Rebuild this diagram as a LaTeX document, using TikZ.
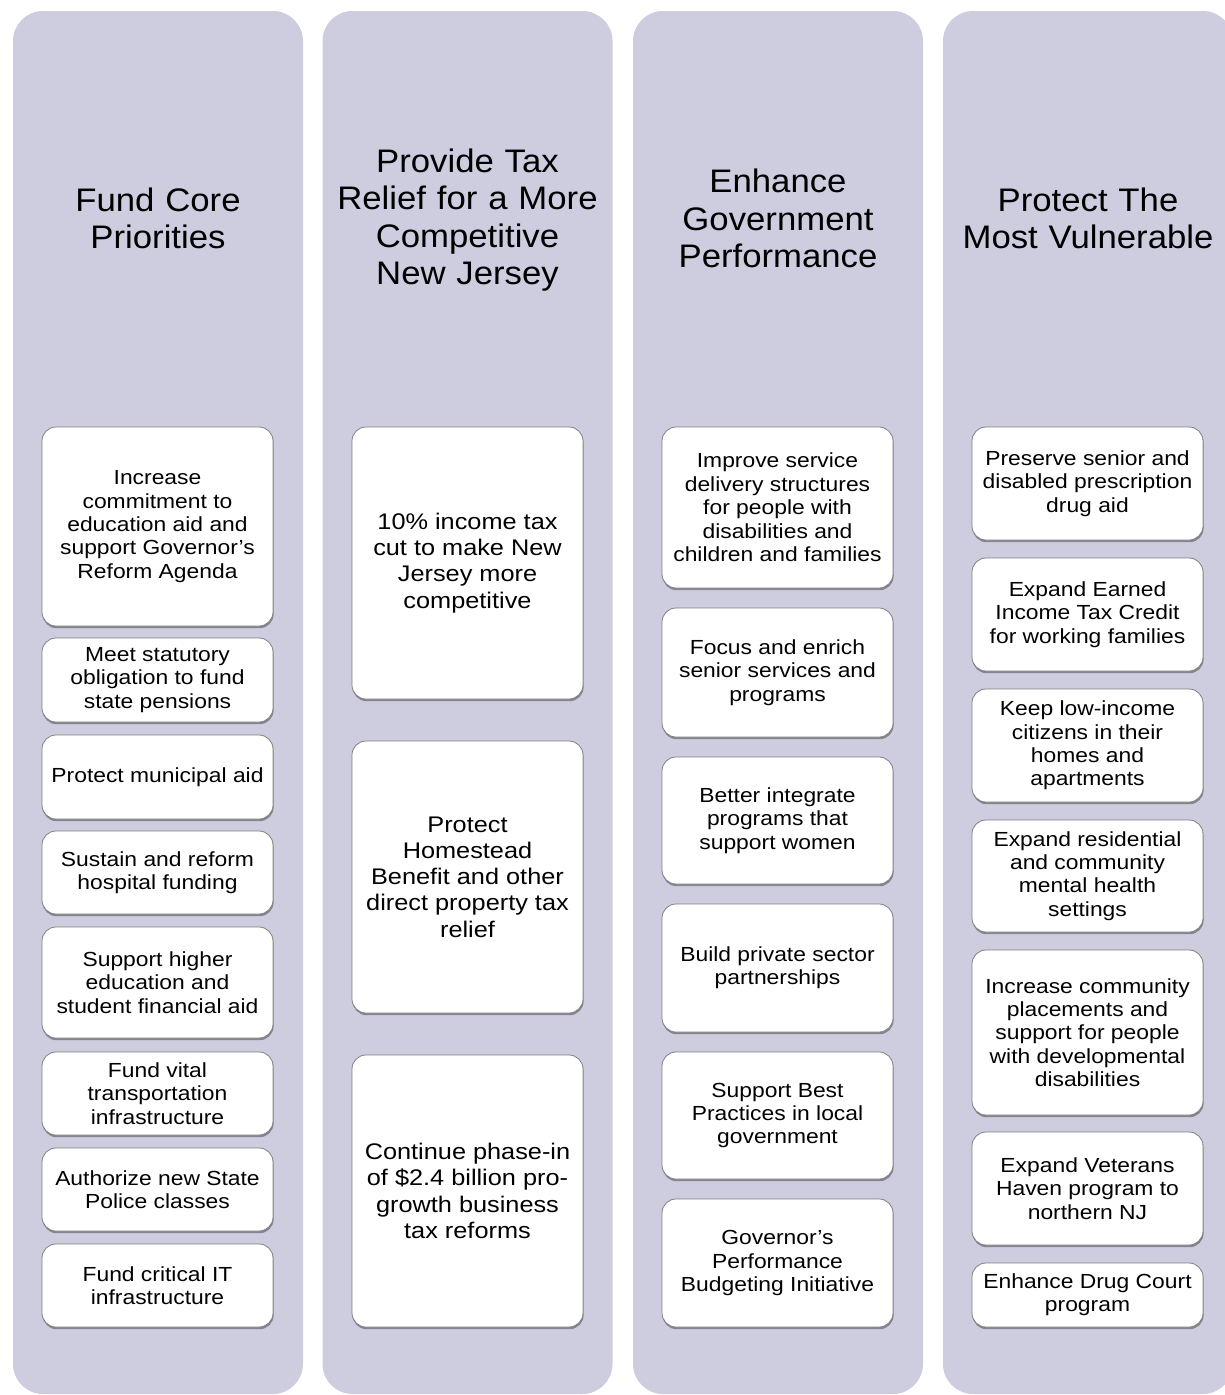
\documentclass[tikz,border=0pt]{standalone}
\usepackage{fontspec}
\setmainfont{Liberation Sans}
\newfontfamily\goalfont[FakeStretch=1.12]{Liberation Sans}
\newfontfamily\headfont[FakeStretch=1.065]{Liberation Sans}
\usetikzlibrary{shadows}
\definecolor{lane}{RGB}{205,205,223}
\definecolor{edge}{RGB}{128,128,128}

\begin{document}
\begin{tikzpicture}[x=1pt, y=-1pt,
  col/.style={rounded corners=30pt, fill=lane, minimum width=290pt, minimum height=1383pt, inner sep=0pt},
  title/.style={align=center, text width=285pt, font=\headfont\fontsize{32.6}{37.2}\selectfont},
  goal/.style={rounded corners=14pt, draw=edge, line width=0.8pt, fill=white, minimum width=231pt,
    inner sep=1pt, align=center, font=\goalfont\fontsize{20.4}{23.4}\selectfont,
    drop shadow={shadow xshift=0.6pt, shadow yshift=-2.2pt, fill=black, opacity=0.35}},
  big/.style={font=\goalfont\fontsize{22.6}{26.2}\selectfont}]
  \useasboundingbox (0,0) rectangle (1225,1395);
  \clip (0,0) rectangle (1225,1395);

  \node[col] (lane1) at (158,702.5) {};
  \node[col] (lane2) at (467.5,702.5) {};
  \node[col] (lane3) at (778,702.5) {};
  \node[col] (lane4) at (1088,702.5) {};

  \node[title] (t1) at (158,218.5) {Fund Core\\Priorities};
  \node[title] (t2) at (467.5,220) {Provide Tax\\Relief for a More\\Competitive\\New Jersey};
  \node[title] (t3) at (778,218.5) {Enhance\\Government\\Performance};
  \node[title] (t4) at (1088,218.5) {Protect The\\Most Vulnerable};

  \node[goal, minimum height=199pt] (c1a) at (157.5,526.5) {Increase\\commitment to\\education aid and\\support Governor’s\\Reform Agenda};
  \node[goal, minimum height=84pt] (c1b) at (157.5,680) {Meet statutory\\obligation to fund\\state pensions};
  \node[goal, minimum height=84pt] (c1c) at (157.5,777) {Protect municipal aid};
  \node[goal, minimum height=83pt] (c1d) at (157.5,872.5) {Sustain and reform\\hospital funding};
  \node[goal, minimum height=111pt] (c1e) at (157.5,982.5) {Support higher\\education and\\student financial aid};
  \node[goal, minimum height=83pt] (c1f) at (157.5,1093.5) {Fund vital\\transportation\\infrastructure};
  \node[goal, minimum height=83pt] (c1g) at (157.5,1189.5) {Authorize new State\\Police classes};
  \node[goal, minimum height=83pt] (c1h) at (157.5,1285.5) {Fund critical IT\\infrastructure};

  \node[goal, big, minimum height=272pt] (c2a) at (467.5,563) {10\% income tax\\cut to make New\\Jersey more\\competitive};
  \node[goal, big, minimum height=272pt] (c2b) at (467.5,877) {Protect\\Homestead\\Benefit and other\\direct property tax\\relief};
  \node[goal, big, minimum height=272pt] (c2c) at (467.5,1191) {Continue phase-in\\of \$2.4 billion pro-\\growth business\\tax reforms};

  \node[goal, minimum height=161pt] (c3a) at (777.5,507.5) {Improve service\\delivery structures\\for people with\\disabilities and\\children and families};
  \node[goal, minimum height=129pt] (c3b) at (777.5,672.5) {Focus and enrich\\senior services and\\programs};
  \node[goal, minimum height=127pt] (c3c) at (777.5,820.5) {Better integrate\\programs that\\support women};
  \node[goal, minimum height=128pt] (c3d) at (777.5,968) {Build private sector\\partnerships};
  \node[goal, minimum height=127pt] (c3e) at (777.5,1115.5) {Support Best\\Practices in local\\government};
  \node[goal, minimum height=128pt] (c3f) at (777.5,1263) {Governor’s\\Performance\\Budgeting Initiative};

  \node[goal, minimum height=113pt] (c4a) at (1087.5,483.5) {Preserve senior and\\disabled prescription\\drug aid};
  \node[goal, minimum height=113pt] (c4b) at (1087.5,614.5) {Expand Earned\\Income Tax Credit\\for working families};
  \node[goal, minimum height=113pt] (c4c) at (1087.5,745.5) {Keep low-income\\citizens in their\\homes and\\apartments};
  \node[goal, minimum height=112pt] (c4d) at (1087.5,876) {Expand residential\\and community\\mental health\\settings};
  \node[goal, minimum height=165pt] (c4e) at (1087.5,1032.5) {Increase community\\placements and\\support for people\\with developmental\\disabilities};
  \node[goal, minimum height=113pt] (c4f) at (1087.5,1188.5) {Expand Veterans\\Haven program to\\northern NJ};
  \node[goal, minimum height=64pt] (c4g) at (1087.5,1295) {Enhance Drug Court\\program};
\end{tikzpicture}
\end{document}
